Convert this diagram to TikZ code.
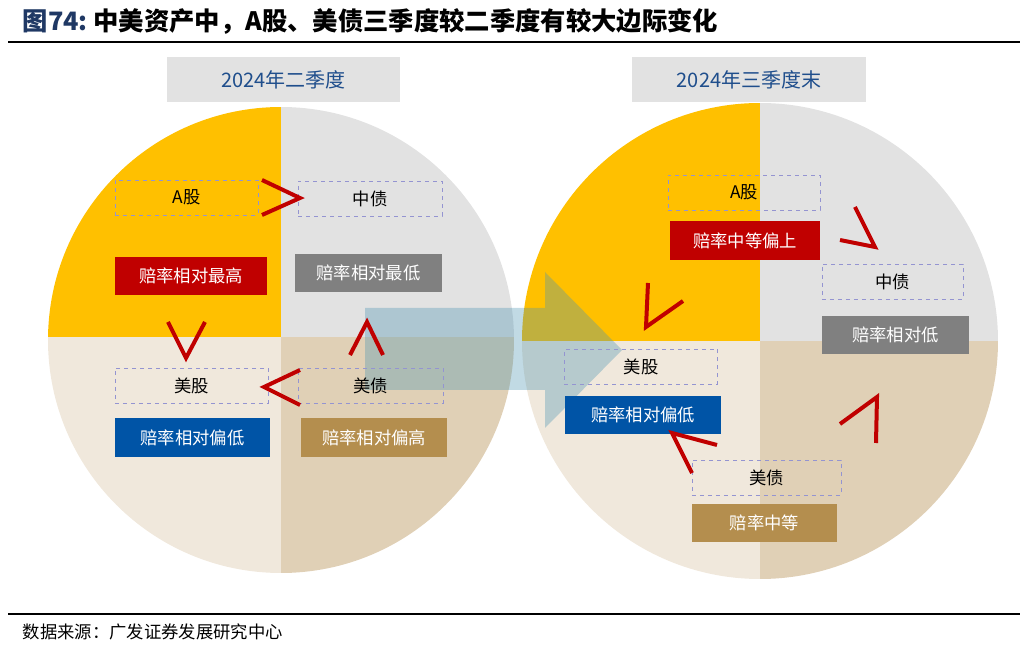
\documentclass[tikz,border=0pt]{standalone}
\usepackage{fontspec}
\setmainfont{Liberation Sans}
\newfontfamily\cjk{Noto Sans CJK SC}
\usetikzlibrary{positioning}
\definecolor{cyel}{RGB}{255,192,0}
\definecolor{cgray}{RGB}{226,226,226}
\definecolor{cbeige}{RGB}{240,232,220}
\definecolor{ctan}{RGB}{224,208,182}
\definecolor{cred}{RGB}{192,0,0}
\definecolor{cdgray}{RGB}{128,128,128}
\definecolor{cblue}{RGB}{0,84,166}
\definecolor{cbrown}{RGB}{180,142,78}
\definecolor{ctitle}{RGB}{31,56,100}
\definecolor{chead}{RGB}{31,78,140}
\tikzset{
  label box/.style={draw=gray!60!blue!60, dashed, fill=none, minimum width=#1, minimum height=26pt, inner sep=0pt, font=\cjk\fontsize{13}{15}\selectfont},
  fill box/.style={fill=#1, text=white, minimum height=29pt, inner sep=2pt, font=\cjk\fontsize{13}{15}\selectfont},
  chevron/.style={draw=cred, line width=3pt, line join=miter},
  head box/.style={fill=cgray, text=chead, minimum width=175pt, minimum height=34pt, font=\cjk\fontsize{15}{17}\selectfont}
}
\begin{document}
\begin{tikzpicture}[x=0.75pt,y=-0.75pt]
\useasboundingbox (0,0) rectangle (1029,655);
%title and rules
\node[anchor=west, font=\cjk\bfseries\fontsize{19}{21}\selectfont] (title) at (18,21) {\textcolor{ctitle}{图74:}\ 中美资产中，A股、美债三季度较二季度有较大边际变化};
\draw[line width=0.8pt] (8,42) -- (1020,42);
\draw[line width=0.8pt] (8,614) -- (1020,614);
\node[anchor=west, font=\cjk\fontsize{13}{15}\selectfont] (src) at (18,632) {数据来源：广发证券发展研究中心};
%left circle quadrants
\begin{scope}
\clip (281,340) circle (233);
\fill[cyel] (48,107) rectangle (281,337);
\fill[cgray] (281,107) rectangle (514,337);
\fill[cbeige] (48,337) rectangle (281,573);
\fill[ctan] (281,337) rectangle (514,573);
\end{scope}
%right circle quadrants
\begin{scope}
\clip (760,341) circle (238);
\fill[cyel] (522,103) rectangle (760,341);
\fill[cgray] (760,103) rectangle (998,341);
\fill[cbeige] (522,341) rectangle (760,579);
\fill[ctan] (760,341) rectangle (998,579);
\end{scope}
%big arrow between
\fill[blue!30!cyan!40!gray, opacity=0.35] (365,308) -- (545,308) -- (545,272) -- (622,350) -- (545,428) -- (545,390) -- (365,390) -- cycle;
%headers
\node[head box] (h2) at (283.5,79.5) {2024年二季度};
\node[head box] (h3) at (749,79.5) {2024年三季度末};
%left labels
\node[label box=107pt] (ags) at (186.5,197.5) {A股};
\node[label box=108pt] (zz) at (370,198.5) {中债};
\node[fill box=cred, minimum width=114pt] (ags2) at (191,276) {赔率相对最高};
\node[fill box=cdgray, minimum width=110pt] (zz2) at (368.5,273) {赔率相对最低};
\node[label box=115pt] (mg) at (191.5,385.5) {美股};
\node[label box=109pt] (mz) at (370.5,385.5) {美债};
\node[fill box=cblue, minimum width=116pt] (mg2) at (192.5,437.5) {赔率相对偏低};
\node[fill box=cbrown, minimum width=110pt] (mz2) at (374,437.5) {赔率相对偏高};
%right labels
\node[label box=114pt] (agsb) at (744,192.5) {A股};
\node[fill box=cred, minimum width=112pt] (agsb2) at (745,240.5) {赔率中等偏上};
\node[label box=106pt] (zzb) at (892.5,281.5) {中债};
\node[fill box=cdgray, minimum width=110pt] (zzb2) at (895.5,335) {赔率相对低};
\node[label box=115pt] (mgb) at (641,366.5) {美股};
\node[fill box=cblue, minimum width=117pt] (mgb2) at (643,415) {赔率相对偏低};
\node[label box=112pt] (mzb) at (766.5,477.5) {美债};
\node[fill box=cbrown, minimum width=109pt] (mzb2) at (764.5,523) {赔率中等};
%left chevrons
\draw[chevron] (262,180) -- (300,198) -- (262,215);
\draw[chevron] (168,322) -- (186,358) -- (205,322);
\draw[chevron] (350,355) -- (367,322) -- (383,355);
\draw[chevron] (300,370) -- (264,387) -- (300,405);
%right chevrons
\draw[chevron] (855,207) -- (875,247) -- (840,240);
\draw[chevron] (648,283) -- (646,327) -- (683,301);
\draw[chevron] (717,445) -- (672,433) -- (692,473);
\draw[chevron] (840,424) -- (877,397) -- (876,443);
\end{tikzpicture}
\end{document}
